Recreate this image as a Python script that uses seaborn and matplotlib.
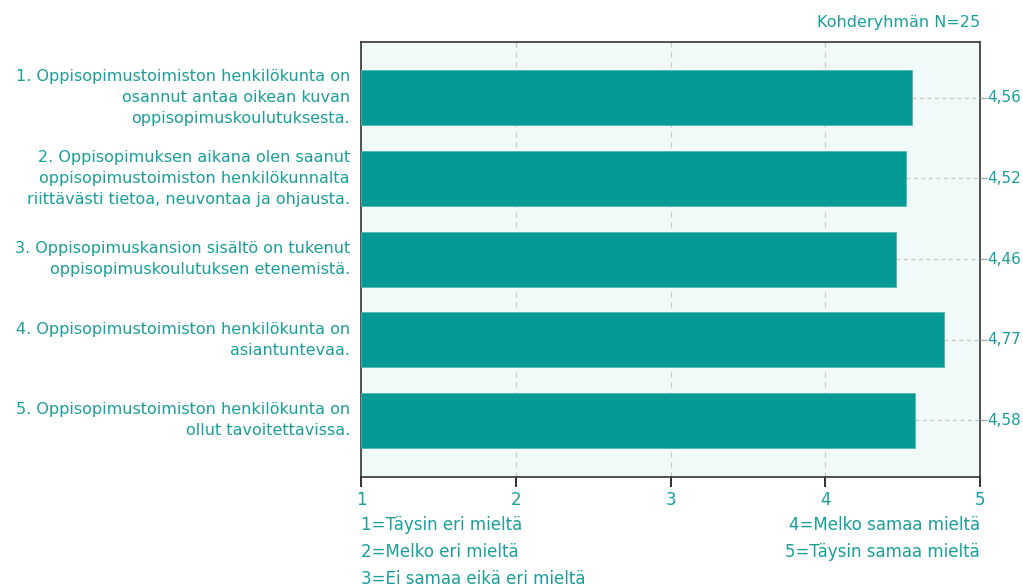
import matplotlib
matplotlib.use("Agg")
import matplotlib.pyplot as plt
import matplotlib.transforms as mtransforms
from matplotlib.collections import LineCollection
import seaborn as sns
import pandas as pd

# data
questions = [
    "1. Oppisopimustoimiston henkilökunta on\nosannut antaa oikean kuvan\noppisopimuskoulutuksesta.",
    "2. Oppisopimuksen aikana olen saanut\noppisopimustoimiston henkilökunnalta\nriittävästi tietoa, neuvontaa ja ohjausta.",
    "3. Oppisopimuskansion sisältö on tukenut\noppisopimuskoulutuksen etenemistä.",
    "4. Oppisopimustoimiston henkilökunta on\nasiantuntevaa.",
    "5. Oppisopimustoimiston henkilökunta on\nollut tavoitettavissa.",
]
means = [4.56, 4.52, 4.46, 4.77, 4.58]
mean_labels = ["4,56", "4,52", "4,46", "4,77", "4,58"]
x_ticks = [1, 2, 3, 4, 5]
scale_left = ["1=Täysin eri mieltä", "2=Melko eri mieltä", "3=Ei samaa eikä eri mieltä"]
scale_right = ["4=Melko samaa mieltä", "5=Täysin samaa mieltä"]
group_note = "Kohderyhmän N=25"

TEAL = "#069a97"
TXT = "#1a9e9a"
GRID = "#c8c8c8"

sns.set_theme(style="ticks")
plt.rcParams['font.family'] = ['DejaVu Sans']

df = pd.DataFrame({"q": questions, "mean": means})

fig = plt.figure(figsize=(10.23, 5.88), dpi=100)
ax = fig.add_axes([0.3529, 0.1888, 0.6051, 0.7398])
ax.set_facecolor("#f2f9f9")

# bars start at 1 (scale minimum)
sns.barplot(data=df, x="mean", y="q", orient="h", color=TEAL, saturation=1,
            width=0.68, ax=ax, edgecolor="#4fb8b5", linewidth=0.6, zorder=3)
for p in ax.patches:
    w = p.get_width()
    p.set_x(1)
    p.set_width(w - 1)

ax.set_xlim(1, 5)
ax.set_ylim(4.70, -0.69)

# vertical dashed grid
for xv in x_ticks[1:-1]:
    ax.axvline(xv, color=GRID, ls=(0, (4, 4)), lw=0.9, zorder=1)
# dashed leaders from bar end to right axis
ax.hlines(range(len(means)), means, 5, colors=GRID, linestyles=(0, (3, 3)), lw=0.9, zorder=2)

for s in ax.spines.values():
    s.set_visible(True)
    s.set_color("#333333")
    s.set_linewidth(1.2)

ax.set_xticks(x_ticks)
ax.set_xticklabels([str(t) for t in x_ticks], color=TXT, fontsize=12)
ax.set_xlabel("")
ax.set_ylabel("")
ax.tick_params(axis="x", bottom=True, top=False, direction="out",
               length=7, width=1.2, color="#333333", pad=3)
ax.tick_params(axis="y", left=False, right=False, length=0, pad=8)
for lab in ax.get_yticklabels():
    lab.set_color(TXT)
    lab.set_fontsize(11.5)
    lab.set_linespacing(1.5)
    lab.set_horizontalalignment("right")
    lab.set_verticalalignment("center")

# bottom tick marks as a figure-level artist, x from the data scale
tick_tr = mtransforms.blended_transform_factory(ax.transData, ax.transAxes)
segs = [[(xv, -0.022), (xv, 0.0)] for xv in x_ticks]
fig.add_artist(LineCollection(segs, transform=tick_tr, colors="#333333",
                              linewidths=1.3, zorder=10))

# value labels on the right, with short grey ticks outside the frame
ax.plot([5] * len(means), range(len(means)), ls="none", marker=1, markersize=5,
        markeredgewidth=1, color="#aaaaaa", clip_on=False, zorder=4)
lab_tr = mtransforms.offset_copy(ax.transData, fig=fig, x=5, y=0, units="points")
for i, t in enumerate(mean_labels):
    ax.text(5, i, t, transform=lab_tr, color=TXT, fontsize=11, ha="left", va="center")

# scale explanations
for i, t in enumerate(scale_left):
    fig.text(0.3529, 1 - (525 + 27 * i) / 588, t, color=TXT, fontsize=12, ha="left", va="center")
for i, t in enumerate(scale_right):
    fig.text(0.958, 1 - (525 + 27 * i) / 588, t, color=TXT, fontsize=12, ha="right", va="center")
fig.text(0.958, 1 - 22 / 588, group_note, color=TXT, fontsize=11.5, ha="right", va="center")

fig.savefig("out.png", dpi=100, facecolor="white")
